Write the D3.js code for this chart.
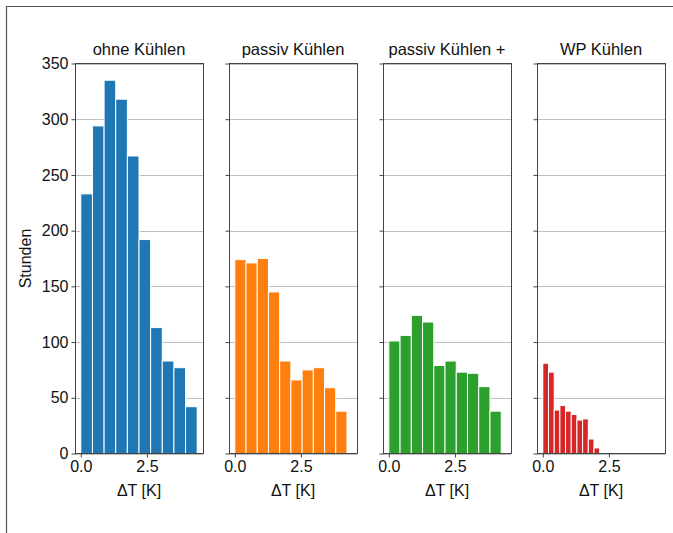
<!DOCTYPE html>
<html>
<head>
<meta charset="utf-8">
<script src="https://cdn.jsdelivr.net/npm/d3@7/dist/d3.min.js"></script>
<style>
  html, body { margin: 0; padding: 0; background: #fff; }
  svg { display: block; font-family: "Liberation Sans", Arial, sans-serif; }
</style>
</head>
<body>
<svg id="chart" width="673" height="533"></svg>
<script>
// Histogram bin counts (hours) per cooling variant, 10 bins each
const titles = ["ohne Kühlen", "passiv Kühlen", "passiv Kühlen +", "WP Kühlen"];
const colors = ["#1f77b4", "#ff7f0e", "#2ca02c", "#d62728"];
const binMax = [4.4, 4.24, 4.25, 2.15];   // upper edge of the last bin, K
const ohneKuehlen = [233, 294, 335, 318, 267, 192, 113, 83, 77, 42];
const passivKuehlen = [174, 171, 175, 145, 83, 66, 75, 77, 59, 38];
const passivKuehlenPlus = [101, 106, 124, 118, 79, 83, 73, 72, 60, 38];
const wpKuehlen = [81, 73, 39, 43, 38, 35, 30, 31, 13, 5];
const series = [ohneKuehlen, passivKuehlen, passivKuehlenPlus, wpKuehlen];
const yTicks = [0, 50, 100, 150, 200, 250, 300, 350];
const xTicks = [0.0, 2.5];
const xLabel = "ΔT [K]";
const yLabel = "Stunden";

const svg = d3.select("#chart");

// outer frame lines
svg.append("line").attr("x1", 6).attr("y1", 6.5).attr("x2", 673).attr("y2", 6.5)
  .attr("stroke", "#555").attr("stroke-width", 1.2);
svg.append("line").attr("x1", 6.5).attr("y1", 6).attr("x2", 6.5).attr("y2", 533)
  .attr("stroke", "#555").attr("stroke-width", 1.2);

const panelLeft = [75, 229, 383, 537];
const panelW = 128;
const plotTop = 63.5, plotBottom = 453.5;

const y = d3.scaleLinear().domain([0, 350]).range([plotBottom, plotTop]);
// shared x limits: data span [0, 4.4] with 5% margins
const xSpan = 4.4;
const xDom = [-0.05 * xSpan, xSpan * 1.05];

series.forEach((vals, i) => {
  const x0 = panelLeft[i];
  const x = d3.scaleLinear().domain(xDom).range([x0, x0 + panelW]);
  const g = svg.append("g");

  // horizontal grid
  g.selectAll("line.grid").data(yTicks).join("line")
    .attr("x1", x0).attr("x2", x0 + panelW)
    .attr("y1", d => Math.round(y(d)) + 0.5).attr("y2", d => Math.round(y(d)) + 0.5)
    .attr("stroke", "#b0b0b0").attr("stroke-width", 0.8);

  // bars
  const w = binMax[i] / vals.length;
  g.selectAll("rect").data(vals).join("rect")
    .attr("x", (d, k) => x(k * w))
    .attr("width", (d, k) => x((k + 1) * w) - x(k * w))
    .attr("y", d => y(d))
    .attr("height", d => y(0) - y(d))
    .attr("fill", colors[i])
    .attr("stroke", "#fff").attr("stroke-width", 1);

  // frame
  g.append("rect").attr("x", x0 + 0.5).attr("y", plotTop).attr("width", panelW).attr("height", plotBottom - plotTop)
    .attr("fill", "none").attr("stroke", "#444").attr("stroke-width", 1);

  // y axis
  const yAxis = d3.axisLeft(y).tickValues(yTicks).tickSize(4).tickPadding(3)
    .tickFormat(i === 0 ? d3.format("d") : () => "");
  const ya = g.append("g").attr("transform", `translate(${x0 + 0.5},0)`).call(yAxis);
  ya.select(".domain").remove();
  ya.selectAll("line").attr("stroke", "#444");
  ya.selectAll("text").attr("font-size", 16).attr("fill", "#111");

  // x axis
  const xAxis = d3.axisBottom(x).tickValues(xTicks).tickSize(4).tickPadding(3)
    .tickFormat(d3.format(".1f"));
  const xa = g.append("g").attr("transform", `translate(0,${plotBottom})`).call(xAxis);
  xa.select(".domain").remove();
  xa.selectAll("line").attr("stroke", "#444");
  xa.selectAll("text").attr("font-size", 16).attr("fill", "#111");

  // title
  g.append("text").attr("x", x0 + panelW / 2).attr("y", 55)
    .attr("text-anchor", "middle").attr("font-size", 16.5).attr("fill", "#111")
    .text(titles[i]);

  // x label
  g.append("text").attr("x", x0 + panelW / 2).attr("y", 496)
    .attr("text-anchor", "middle").attr("font-size", 16).attr("fill", "#111")
    .text(xLabel);
});

svg.append("text")
  .attr("transform", `translate(31,${(plotTop + plotBottom) / 2}) rotate(-90)`)
  .attr("text-anchor", "middle").attr("font-size", 16).attr("fill", "#111")
  .text(yLabel);
</script>
</body>
</html>
